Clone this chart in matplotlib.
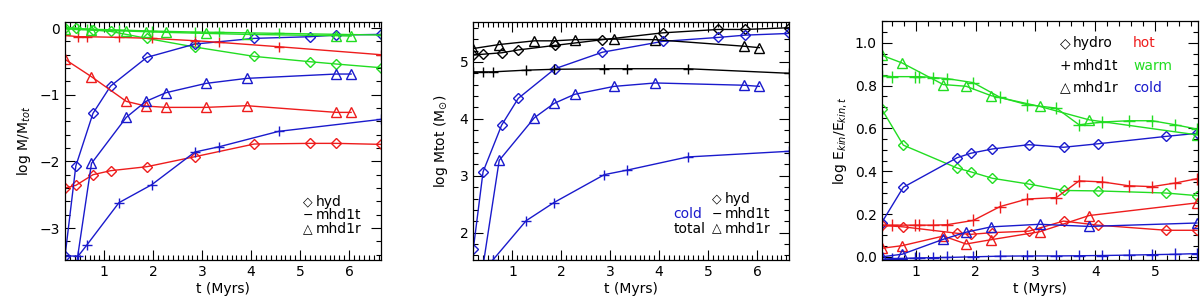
import matplotlib
matplotlib.use("Agg")
import matplotlib.pyplot as plt
from matplotlib.ticker import MultipleLocator, FormatStrFormatter

RED = '#ee1c1c'
GREEN = '#22dd22'
BLUE = '#1a1acc'

# ---- panel 1: log M/Mtot ----
t1_hyd = [0.2, 0.42, 0.77, 1.13, 1.87, 2.85, 4.06, 5.2, 5.74, 6.65]
hot1_hyd = [-2.4, -2.36, -2.2, -2.14, -2.08, -1.93, -1.74, -1.73, -1.73, -1.745]
warm1_hyd = [0.0, 0.0, -0.03, -0.05, -0.155, -0.285, -0.425, -0.505, -0.54, -0.595]
cold1_hyd = [-3.42, -2.07, -1.28, -0.87, -0.44, -0.24, -0.155, -0.13, -0.105, -0.095]

t1_mhd1t = [0.2, 0.47, 0.65, 1.3, 1.97, 2.85, 3.35, 4.56, 6.65]
hot1_mhd1t = [-0.11, -0.13, -0.13, -0.14, -0.155, -0.19, -0.215, -0.28, -0.40]
warm1_mhd1t = [0.0, -0.01, -0.015, -0.03, -0.045, -0.06, -0.065, -0.08, -0.105]
cold1_mhd1t = [-3.42, -3.42, -3.25, -2.62, -2.35, -1.86, -1.78, -1.55, -1.37]

t1_mhd1r = [0.2, 0.74, 1.45, 1.85, 2.26, 3.08, 3.91, 5.73, 6.04]
hot1_mhd1r = [-0.47, -0.73, -1.1, -1.17, -1.19, -1.19, -1.165, -1.265, -1.265]
warm1_mhd1r = [-0.01, -0.03, -0.045, -0.055, -0.065, -0.08, -0.095, -0.115, -0.12]
cold1_mhd1r = [-4.7, -2.03, -1.34, -1.1, -0.97, -0.83, -0.755, -0.69, -0.69]

# ---- panel 2: log Mtot (Msun) ----
t2_hyd = [0.2, 0.4, 0.78, 1.12, 1.87, 2.84, 4.07, 5.21, 5.76, 6.66]
total2_hyd = [5.12, 5.135, 5.16, 5.21, 5.29, 5.39, 5.51, 5.57, 5.57, 5.60]
cold2_hyd = [1.71, 3.07, 3.89, 4.36, 4.88, 5.17, 5.36, 5.43, 5.47, 5.50]

t2_mhd1t = [0.2, 0.4, 0.6, 1.28, 1.85, 2.88, 3.35, 4.58, 6.66]
total2_mhd1t = [4.825, 4.825, 4.825, 4.855, 4.87, 4.88, 4.88, 4.88, 4.80]
cold2_mhd1t = [1.0, 1.3, 1.52, 2.21, 2.53, 3.02, 3.10, 3.33, 3.43]

t2_mhd1r = [0.2, 0.73, 1.45, 1.85, 2.27, 3.08, 3.92, 5.74, 6.05]
total2_mhd1r = [5.235, 5.305, 5.37, 5.37, 5.39, 5.40, 5.39, 5.275, 5.25]
cold2_mhd1r = [0.3, 3.27, 4.02, 4.27, 4.43, 4.57, 4.63, 4.59, 4.57]

# ---- panel 3: log Ekin/Ekin,t ----
t3_hydro = [0.43, 0.79, 1.69, 1.92, 2.28, 2.89, 3.47, 4.04, 5.19, 5.70]
hot3_hydro = [0.147, 0.14, 0.11, 0.105, 0.113, 0.12, 0.167, 0.148, 0.124, 0.124]
warm3_hydro = [0.69, 0.522, 0.415, 0.397, 0.367, 0.34, 0.31, 0.308, 0.298, 0.286]
cold3_hydro = [0.16, 0.325, 0.463, 0.484, 0.504, 0.524, 0.512, 0.528, 0.563, 0.577]

t3_mhd1t = [0.43, 0.6, 0.98, 1.06, 1.29, 1.52, 1.96, 2.41, 2.86, 3.35, 3.73, 4.12,
            4.56, 4.95, 5.34, 5.70]
hot3_mhd1t = [0.148, 0.148, 0.148, 0.148, 0.148, 0.15, 0.17, 0.235, 0.27, 0.277,
              0.355, 0.35, 0.332, 0.328, 0.345, 0.365]
warm3_mhd1t = [0.847, 0.842, 0.842, 0.842, 0.838, 0.833, 0.814, 0.745, 0.711, 0.695,
               0.617, 0.63, 0.636, 0.636, 0.617, 0.597]
cold3_mhd1t = [-0.012, -0.008, -0.006, -0.005, -0.004, -0.003, 0.0, 0.003, 0.004,
               0.004, 0.005, 0.006, 0.008, 0.01, 0.012, 0.015]

t3_mhd1r = [0.43, 0.77, 1.46, 1.84, 2.26, 3.07, 3.90, 5.70]
hot3_mhd1r = [0.04, 0.052, 0.097, 0.06, 0.08, 0.117, 0.193, 0.252]
warm3_mhd1r = [0.942, 0.906, 0.805, 0.797, 0.753, 0.703, 0.64, 0.57]
cold3_mhd1r = [0.0, 0.012, 0.082, 0.115, 0.14, 0.152, 0.142, 0.158]


def style(ax, xminor, ymajor, yminor, ylab_x):
    ax.xaxis.set_major_locator(MultipleLocator(1))
    ax.xaxis.set_minor_locator(MultipleLocator(xminor))
    ax.yaxis.set_major_locator(MultipleLocator(ymajor))
    ax.yaxis.set_minor_locator(MultipleLocator(yminor))
    ax.tick_params(which='both', direction='in', top=True, right=True,
                   labelsize=10, width=0.8)
    ax.tick_params(which='major', length=7)
    ax.tick_params(which='minor', length=3.5)
    for s in ax.spines.values():
        s.set_linewidth(0.9)
    ax.set_xlabel('t (Myrs)', fontsize=10, labelpad=2)
    ax.yaxis.set_label_coords(ylab_x, 0.5)


def curve(ax, t, y, color, marker, ms=6):
    ax.plot(t, y, color=color, lw=1, marker=marker, ms=ms,
            mfc='none', mec=color, mew=1)


fig = plt.figure(figsize=(12, 3.02), dpi=100)
ax1 = fig.add_axes([0.0542, 0.139, 0.2633, 0.788])
ax2 = fig.add_axes([0.3944, 0.139, 0.2633, 0.788])
ax3 = fig.add_axes([0.7348, 0.139, 0.2636, 0.790])

# panel 1
for vals, c in [(hot1_hyd, RED), (warm1_hyd, GREEN), (cold1_hyd, BLUE)]:
    curve(ax1, t1_hyd, vals, c, 'D', 5.5)
for vals, c in [(hot1_mhd1t, RED), (warm1_mhd1t, GREEN), (cold1_mhd1t, BLUE)]:
    curve(ax1, t1_mhd1t, vals, c, '+', 7)
for vals, c in [(hot1_mhd1r, RED), (warm1_mhd1r, GREEN), (cold1_mhd1r, BLUE)]:
    curve(ax1, t1_mhd1r, vals, c, '^', 7)
ax1.set_xlim(0.2, 6.65)
ax1.set_ylim(-3.48, 0.09)
ax1.set_ylabel('log M/M$_{tot}$', fontsize=10)
style(ax1, 0.1, 1, 0.2, -0.10)
for yy, sym, lab in [(0.245, '\u25C7', 'hyd'), (0.189, '\u2212', 'mhd1t'),
                     (0.129, '\u25B3', 'mhd1r')]:
    ax1.text(0.752, yy, sym, transform=ax1.transAxes, fontsize=9, va='center')
    ax1.text(0.795, yy, lab, transform=ax1.transAxes, fontsize=10, va='center')

# panel 2
curve(ax2, t2_hyd, total2_hyd, 'black', 'D', 5.5)
curve(ax2, t2_hyd, cold2_hyd, BLUE, 'D', 5.5)
curve(ax2, t2_mhd1t, total2_mhd1t, 'black', '+', 7)
curve(ax2, t2_mhd1t, cold2_mhd1t, BLUE, '+', 7)
curve(ax2, t2_mhd1r, total2_mhd1r, 'black', '^', 7)
curve(ax2, t2_mhd1r, cold2_mhd1r, BLUE, '^', 7)
ax2.set_xlim(0.2, 6.66)
ax2.set_ylim(1.52, 5.70)
ax2.set_ylabel('log Mtot (M$_{\\odot}$)', fontsize=10)
style(ax2, 0.1, 1, 0.2, -0.074)
for yy, sym, lab in [(0.256, '\u25C7', 'hyd'), (0.193, '\u2212', 'mhd1t'),
                     (0.130, '\u25B3', 'mhd1r')]:
    ax2.text(0.755, yy, sym, transform=ax2.transAxes, fontsize=9, va='center')
    ax2.text(0.797, yy, lab, transform=ax2.transAxes, fontsize=10, va='center')
ax2.text(0.633, 0.193, 'cold', color=BLUE, transform=ax2.transAxes,
         fontsize=10, va='center')
ax2.text(0.633, 0.130, 'total', color='black', transform=ax2.transAxes,
         fontsize=10, va='center')

# panel 3
for vals, c in [(hot3_hydro, RED), (warm3_hydro, GREEN), (cold3_hydro, BLUE)]:
    curve(ax3, t3_hydro, vals, c, 'D', 5.5)
for vals, c in [(hot3_mhd1t, RED), (warm3_mhd1t, GREEN), (cold3_mhd1t, BLUE)]:
    curve(ax3, t3_mhd1t, vals, c, '+', 8)
for vals, c in [(hot3_mhd1r, RED), (warm3_mhd1r, GREEN), (cold3_mhd1r, BLUE)]:
    curve(ax3, t3_mhd1r, vals, c, '^', 7)
ax3.set_xlim(0.43, 5.72)
ax3.set_ylim(-0.015, 1.10)
ax3.set_ylabel('log E$_{kin}$/E$_{kin,t}$', fontsize=10)
style(ax3, 0.2, 0.2, 0.05, -0.103)
ax3.yaxis.set_major_formatter(FormatStrFormatter('%.1f'))
for yy, sym, lab, phase, pc in [(0.908, '\u25C7', 'hydro', 'hot', RED),
                                (0.814, '+', 'mhd1t', 'warm', GREEN),
                                (0.722, '\u25B3', 'mhd1r', 'cold', BLUE)]:
    ax3.text(0.562, yy, sym, transform=ax3.transAxes, fontsize=10, va='center')
    ax3.text(0.605, yy, lab, transform=ax3.transAxes, fontsize=10, va='center')
    ax3.text(0.795, yy, phase, color=pc, transform=ax3.transAxes,
             fontsize=10, va='center')

fig.savefig('out.png', dpi=100)
